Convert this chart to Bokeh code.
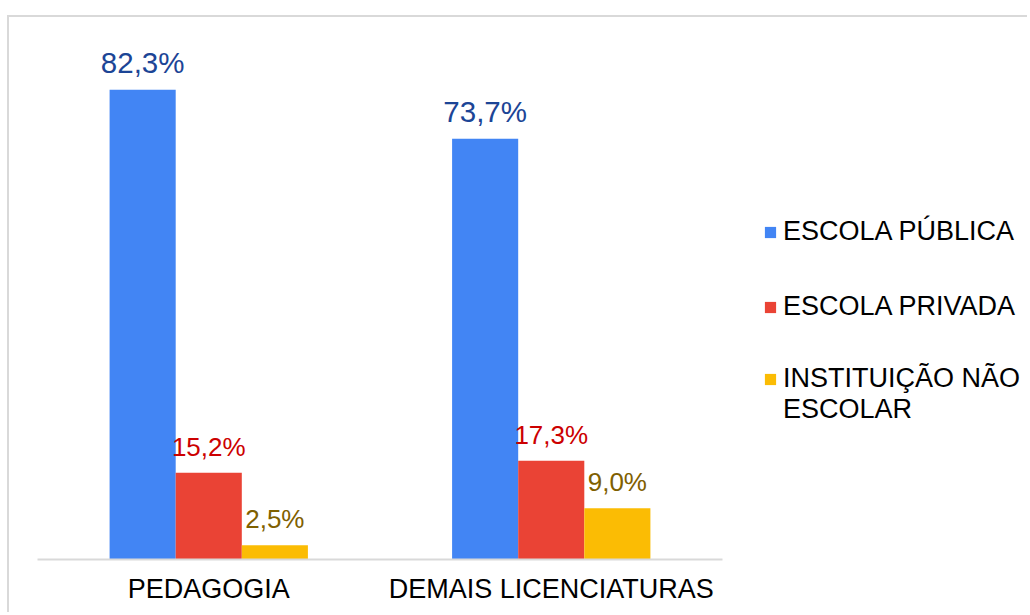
from bokeh.plotting import figure
from bokeh.models import ColumnDataSource, Range1d, Legend, LegendItem, FixedTicker
from bokeh.embed import file_html
from bokeh.resources import INLINE
from bokeh.core.properties import value

categories = ["PEDAGOGIA", "DEMAIS LICENCIATURAS"]
series = ["ESCOLA PÚBLICA", "ESCOLA PRIVADA", "INSTITUIÇÃO NÃO\nESCOLAR"]
publica = [82.3, 73.7]
privada = [15.2, 17.3]
nao_escolar = [2.5, 9.0]
bar_colors = ["#4285f4", "#ea4335", "#fbbc04"]
label_colors = ["#1c4596", "#cc0000", "#7f6000"]
label_sizes = ["29.5px", "26px", "26px"]

FONT = "Liberation Sans"

W, H = 1020, 597
LEFT, TOP, BOTTOM = 28, 10, 55
cat_px = 342.5
n = len(categories)
x_end = (W - LEFT) / cat_px

p = figure(
    x_range=Range1d(0, x_end),
    y_range=Range1d(0, 93.2),
    width=W, height=H,
    min_border_left=LEFT, min_border_right=0, min_border_top=TOP, min_border_bottom=BOTTOM,
    output_backend="svg", toolbar_location=None, y_axis_location=None,
    styles={"border-left": "2px solid #d9d9d9", "border-top": "2px solid #d9d9d9",
            "margin-top": "15px", "margin-left": "7px"},
)
p.outline_line_color = None
p.xgrid.visible = False
p.ygrid.visible = False

centers = [i + 0.5 for i in range(n)]
bw = 0.193
offsets = [-bw, 0.0, bw]
values_list = [publica, privada, nao_escolar]
renderers = []
for name, vals, off, col, lcol, lsz in zip(series, values_list, offsets, bar_colors, label_colors, label_sizes):
    src = ColumnDataSource(dict(
        x=[c + off for c in centers],
        val=vals,
        lbl=[("%.1f" % v).replace(".", ",") + "%" for v in vals],
    ))
    r = p.vbar(x="x", top="val", width=bw, source=src, fill_color=col, line_color=None)
    p.text(x="x", y="val", text="lbl", source=src,
           text_align="center", text_baseline="bottom", y_offset=-11,
           text_font=value(FONT), text_font_size=lsz, text_color=lcol)
    renderers.append(r)

legend_style = dict(padding=0, margin=0, spacing=44,
                    glyph_width=14, glyph_height=14, label_standoff=6,
                    label_text_font=FONT, label_text_font_size="27px",
                    label_text_color="#000000", label_text_line_height=1.1,
                    border_line_color=None, background_fill_alpha=0)
legend_a = Legend(items=[LegendItem(label=value(series[0]), renderers=[renderers[0]]),
                         LegendItem(label=value(series[1]), renderers=[renderers[1]])],
                  location=(726, 237), **legend_style)
# leading blank line keeps the swatch level with the first text line
legend_b = Legend(items=[LegendItem(label=value("\n" + series[2]), renderers=[renderers[2]])],
                  location=(726, 134), **legend_style)
p.add_layout(legend_a)
p.add_layout(legend_b)

ax = p.xaxis[0]
ax.ticker = FixedTicker(ticks=centers)
ax.major_label_overrides = {c: name for c, name in zip(centers, categories)}
ax.bounds = (0, n)
ax.major_label_text_font = FONT
ax.major_label_text_font_size = "27px"
ax.major_label_text_color = "#000000"
ax.major_tick_line_color = None
ax.minor_tick_line_color = None
ax.axis_line_color = "#d9d9d9"
ax.axis_line_width = 2
ax.major_label_standoff = 8

open("out.html", "w").write(file_html(p, INLINE))
